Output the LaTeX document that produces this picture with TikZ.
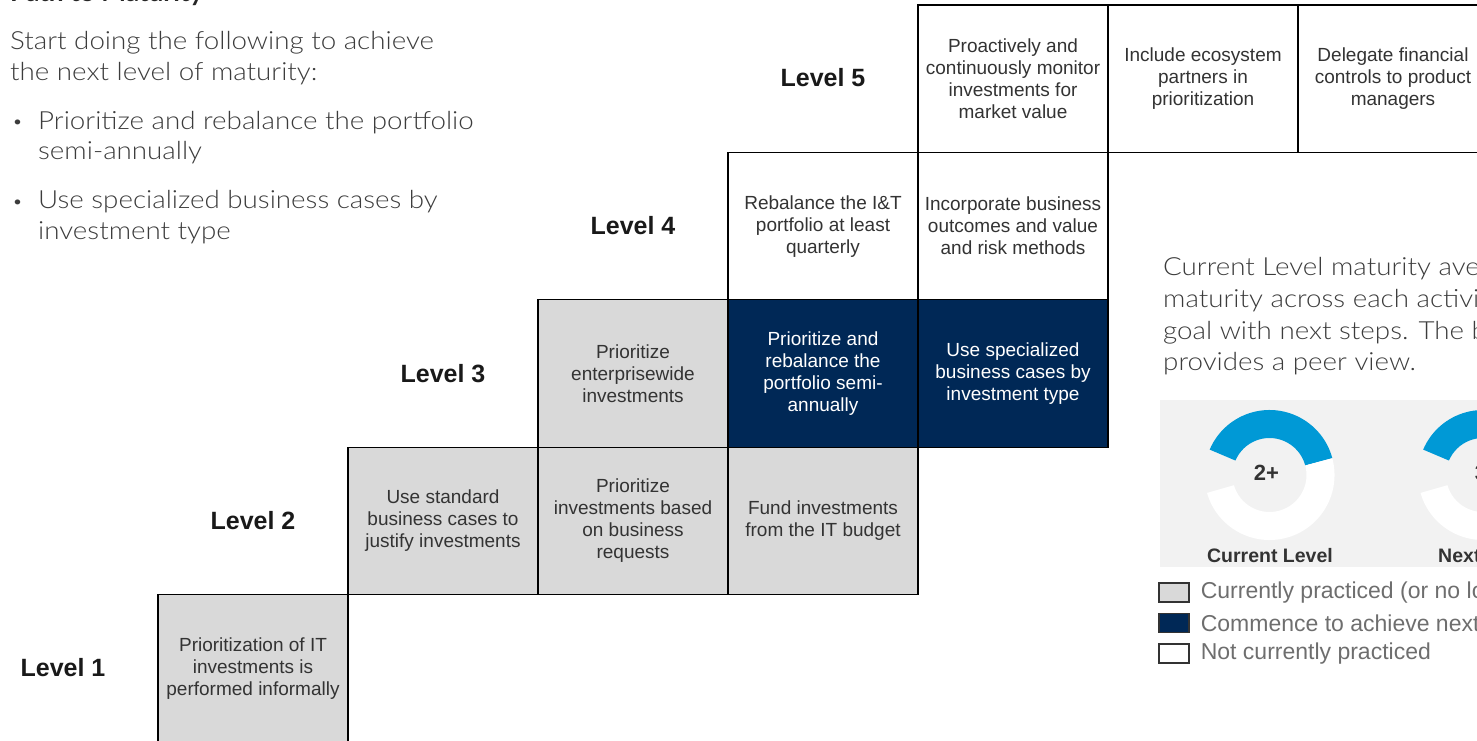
\documentclass[tikz,border=0pt]{standalone}
\usepackage{fontspec}
\setmainfont{Liberation Sans}
\newfontfamily\gfont{Lato Light}[FakeStretch=1.11]
\newfontfamily\gboldfont{Lato Bold}[FakeStretch=1.05]
\usetikzlibrary{positioning,calc}
\definecolor{cellgray}{RGB}{217,217,217}
\definecolor{navy}{RGB}{0,40,86}
\definecolor{dialblue}{RGB}{0,153,214}
\definecolor{panelgray}{RGB}{242,242,242}
\definecolor{bodygray}{RGB}{60,60,60}
\definecolor{keygray}{RGB}{110,110,110}
\begin{document}
\begin{tikzpicture}[x=1pt,y=-1pt,
    cell/.style={draw=black,line width=1.2pt,outer sep=0pt,inner sep=0pt,minimum width=190pt,minimum height=147.4pt,align=center,text=black!80,font=\fontsize{19}{22}\selectfont},
    practiced/.style={cell,fill=cellgray},
    commence/.style={cell,fill=navy,text=white},
    notyet/.style={cell,fill=white},
    lvl/.style={inner sep=0pt,text=black!90,font=\fontsize{25}{30}\selectfont\bfseries},
    body/.style={anchor=base west,inner sep=0pt,text=bodygray,font=\gfont\fontsize{25}{31}\selectfont},
    keybox/.style={draw=black!80,line width=1.2pt,minimum width=30pt,minimum height=19pt,inner sep=0pt},
    keytxt/.style={inner sep=0pt,text=keygray,font=\fontsize{23}{27}\selectfont},
    dialtxt/.style={inner sep=0pt,text=black!80,font=\fontsize{19.5}{24}\selectfont\bfseries}]
\useasboundingbox (0,0) rectangle (1477,741);
\clip (0,0) rectangle (1477,741);

\node[body,font=\gboldfont\fontsize{25}{31}\selectfont,text=black!85] (title) at (10,2) {Path to Maturity};
\node[body] (intro1) at (10,50) {Start doing the following to achieve};
\node[body] (intro2) at (10,81) {the next level of maturity:};
\node[body,font=\gfont\fontsize{17}{20}\selectfont] (dotA) at (12,128) {•};
\node[body] (itemA1) at (38,129) {Prioritize and rebalance the portfolio};
\node[body] (itemA2) at (38,160) {semi-annually};
\node[body,font=\gfont\fontsize{17}{20}\selectfont] (dotB) at (12,207) {•};
\node[body] (itemB1) at (38,208) {Use specialized business cases by};
\node[body] (itemB2) at (38,239) {investment type};

\node[practiced] (c11) at (253,668.3) {Prioritization of IT\\investments is\\performed informally};
\node[practiced] (c21) at (443,520.9) {Use standard\\business cases to\\justify investments};
\node[practiced,right=0pt of c21] (c22) {Prioritize\\investments based\\on business\\requests};
\node[practiced,right=0pt of c22] (c23) {Fund investments\\from the IT budget};
\node[practiced,above=0pt of c22] (c31) {Prioritize\\enterprisewide\\investments};
\node[commence,right=0pt of c31] (c32) {Prioritize and\\rebalance the\\portfolio semi-\\annually};
\node[commence,right=0pt of c32] (c33) {Use specialized\\business cases by\\investment type};
\node[notyet,above=0pt of c32] (c41) {Rebalance the I\&T\\portfolio at least\\quarterly};
\node[notyet,right=0pt of c41] (c42) {Incorporate business\\outcomes and value\\and risk methods};
\node[notyet,above=0pt of c42] (c51) {Proactively and\\continuously monitor\\investments for\\market value};
\node[notyet,right=0pt of c51] (c52) {Include ecosystem\\partners in\\prioritization};
\node[notyet,right=0pt of c52] (c53) {Delegate financial\\controls to product\\managers};

\node[lvl] (lv1) at (63,668) {Level 1};
\node[lvl] (lv2) at (253,521) {Level 2};
\node[lvl] (lv3) at (443,374) {Level 3};
\node[lvl] (lv4) at (633,226) {Level 4};
\node[lvl] (lv5) at (823,78) {Level 5};

\node[body] (note1) at (1163,275) {Current Level maturity average};
\node[body] (note2) at (1163,307) {maturity across each activity};
\node[body] (note3) at (1163,339) {goal with next steps. The benchmark};
\node[body] (note4) at (1163,370) {provides a peer view.};

\fill[panelgray] (1160,400) rectangle (1500,567);
\coordinate (dial1) at (1269.5,475);
\coordinate (dial2) at (1483,475);
\foreach \d in {dial1,dial2}{
  \fill[dialblue] ($(\d)+(15:65pt)$) arc[start angle=15,end angle=157,radius=65pt]
    -- ($(\d)+(157:37pt)$) arc[start angle=157,end angle=15,radius=37pt] -- cycle;
  \fill[white] ($(\d)+(196:65pt)$) arc[start angle=196,end angle=375,radius=65pt]
    -- ($(\d)+(15:37pt)$) arc[start angle=375,end angle=196,radius=37pt] -- cycle;
}
\node[dialtxt,font=\fontsize{22}{26}\selectfont\bfseries] (num1) at ($(dial1)+(-3,-2)$) {2+};
\node[dialtxt,font=\fontsize{22}{26}\selectfont\bfseries] (num2) at ($(dial2)+(-2,-2)$) {3};
\node[dialtxt,anchor=base] (cap1) at (1270,562) {Current Level};
\node[dialtxt,anchor=base] (cap2) at (1487,562) {Next Level};

\node[keybox,fill=cellgray] (k1) at (1174,592.5) {};
\node[keybox,fill=navy] (k2) at (1174,623) {};
\node[keybox,fill=white] (k3) at (1174,653.5) {};
\node[keytxt,right=11pt of k1] (t1) {Currently practiced (or no longer needed)};
\node[keytxt,right=11pt of k2] (t2) {Commence to achieve next level};
\node[keytxt,right=11pt of k3] (t3) {Not currently practiced};
\end{tikzpicture}
\end{document}
